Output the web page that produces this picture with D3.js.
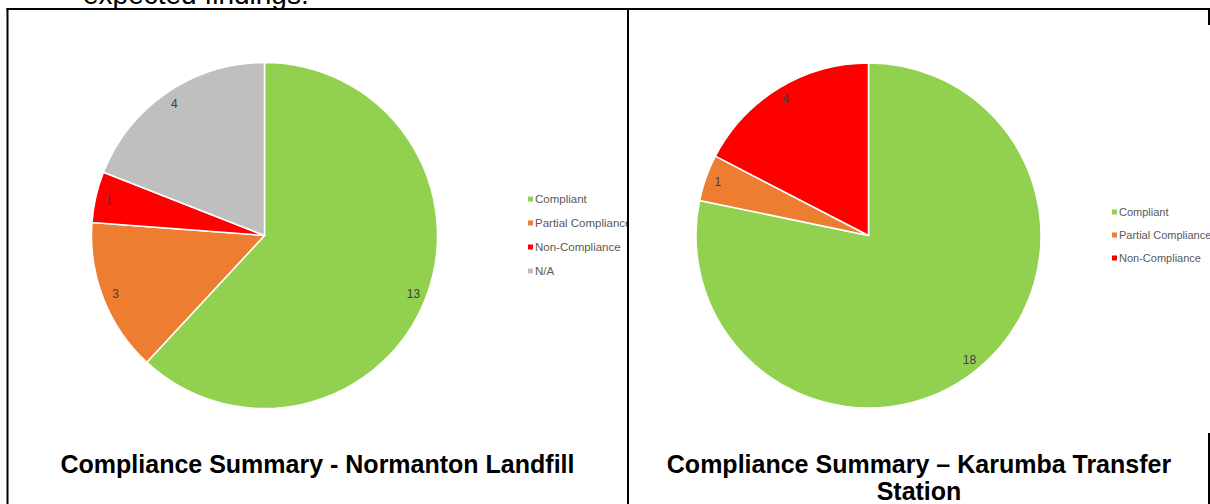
<!DOCTYPE html>
<html>
<head>
<meta charset="utf-8">
<script src="https://cdn.jsdelivr.net/npm/d3@7/dist/d3.min.js"></script>
<style>
  html, body { margin: 0; padding: 0; background: #fff; }
  svg { display: block; font-family: Arial, "Liberation Sans", sans-serif; }
</style>
</head>
<body>
<svg id="chart" width="1210" height="504"></svg>
<script>
// Compliance categories and counts for each site
const categoriesNormanton = ["Compliant", "Partial Compliance", "Non-Compliance", "N/A"];
const valuesNormanton = [13, 3, 1, 4];

const categoriesKarumba = ["Compliant", "Partial Compliance", "Non-Compliance"];
const valuesKarumba = [18, 1, 4];

const titleNormanton = ["Compliance Summary - Normanton Landfill"];
const titleKarumba = ["Compliance Summary \u2013 Karumba Transfer", "Station"];

const categoryColors = d3.scaleOrdinal()
  .domain(["Compliant", "Partial Compliance", "Non-Compliance", "N/A"])
  .range(["#92D050", "#ED7D31", "#FF0000", "#BFBFBF"]);

const svg = d3.select("#chart");
const defs = svg.append("defs");

// Trailing line of the paragraph above the table
svg.append("text")
  .attr("x", 83).attr("y", 4)
  .attr("font-size", 28).attr("fill", "#000")
  .text("expected findings.");

// Table grid lines
const grid = svg.append("g").attr("stroke", "#000").attr("stroke-width", 2).attr("fill", "none");
grid.append("line").attr("x1", 6.5).attr("x2", 1210).attr("y1", 9).attr("y2", 9);
grid.append("line").attr("x1", 7.5).attr("x2", 7.5).attr("y1", 8).attr("y2", 504);
grid.append("line").attr("x1", 628).attr("x2", 628).attr("y1", 8).attr("y2", 504);
grid.append("line").attr("x1", 1209).attr("x2", 1209).attr("y1", 8).attr("y2", 504);

function drawPie(opts) {
  const { id, cats, vals, cx, cy, r, clip, legendX, legendY, legendStep, legendSize, bg } = opts;

  defs.append("clipPath").attr("id", id)
    .append("rect").attr("x", clip[0]).attr("y", clip[1]).attr("width", clip[2]).attr("height", clip[3]);

  const g = svg.append("g").attr("clip-path", `url(#${id})`);

  if (bg) {
    g.append("rect").attr("x", bg[0]).attr("y", bg[1]).attr("width", bg[2]).attr("height", bg[3]).attr("fill", "#fff");
  }

  const data = cats.map((c, i) => ({ cat: c, value: vals[i] }));
  const pie = d3.pie().sort(null).value(d => d.value).startAngle(0).endAngle(2 * Math.PI);
  const arcs = pie(data);
  const arc = d3.arc().innerRadius(0).outerRadius(r);
  const labelArc = d3.arc().innerRadius(160).outerRadius(160);

  const pg = g.append("g").attr("transform", `translate(${cx},${cy})`);
  pg.selectAll("path.slice").data(arcs).join("path")
    .attr("class", "slice")
    .attr("d", arc)
    .attr("fill", d => categoryColors(d.data.cat))
    .attr("stroke", "#fff")
    .attr("stroke-width", 1.5)
    .attr("stroke-linejoin", "round");

  pg.selectAll("text.val").data(arcs).join("text")
    .attr("class", "val")
    .attr("transform", d => `translate(${labelArc.centroid(d)})`)
    .attr("text-anchor", "middle")
    .attr("dy", "0.35em")
    .attr("font-size", 12)
    .attr("fill", "#404040")
    .text(d => d.data.value);

  const lg = g.append("g").attr("transform", `translate(${legendX},${legendY})`);
  const items = lg.selectAll("g.item").data(cats).join("g")
    .attr("class", "item")
    .attr("transform", (d, i) => `translate(0,${i * legendStep})`);
  items.append("rect")
    .attr("x", 0).attr("y", -2.5).attr("width", 5).attr("height", 5)
    .attr("fill", d => categoryColors(d));
  items.append("text")
    .attr("x", 7).attr("dy", "0.35em")
    .attr("font-size", legendSize)
    .attr("fill", "#595959")
    .text(d => d);
}

drawPie({
  id: "clipLeft", cats: categoriesNormanton, vals: valuesNormanton,
  cx: 264.5, cy: 235.5, r: 173,
  clip: [9, 10, 618, 494],
  legendX: 528, legendY: 199, legendStep: 24, legendSize: 11.5
});

drawPie({
  id: "clipRight", cats: categoriesKarumba, vals: valuesKarumba,
  cx: 868.5, cy: 235.5, r: 172.5,
  clip: [629, 10, 600, 494],
  bg: [640, 25, 580, 408],
  legendX: 1112, legendY: 212, legendStep: 23, legendSize: 11
});

// Table cell captions
function drawTitle(lines, cx) {
  svg.append("text")
    .attr("text-anchor", "middle")
    .attr("font-size", 25).attr("font-weight", "bold").attr("fill", "#000")
    .selectAll("tspan").data(lines).join("tspan")
    .attr("x", cx)
    .attr("y", (d, i) => 473 + i * 27)
    .text(d => d);
}
drawTitle(titleNormanton, 317.5);
drawTitle(titleKarumba, 919);
</script>
</body>
</html>
